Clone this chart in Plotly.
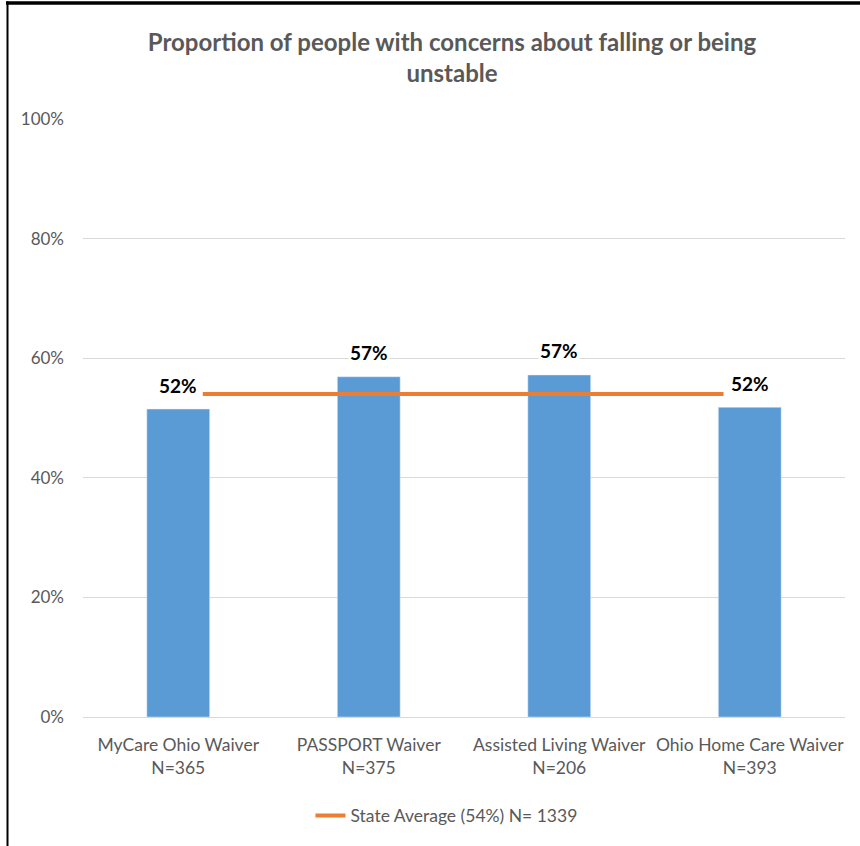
import plotly.graph_objects as go

categories = ["MyCare Ohio Waiver<br>N=365", "PASSPORT Waiver<br>N=375",
              "Assisted Living Waiver<br>N=206", "Ohio Home Care Waiver<br>N=393"]
values = [0.515, 0.569, 0.572, 0.518]
labels = ["52%", "57%", "57%", "52%"]
state_avg = [0.54, 0.54, 0.54, 0.54]
avg_name = "State Average (54%) N= 1339"
title = "Proportion of people with concerns about falling or being<br>unstable"
yticks = [0, 0.2, 0.4, 0.6, 0.8, 1.0]
yticklabels = ["0%", "20%", "40%", "60%", "80%", "100%"]

FONT = "Lato, Open Sans, sans-serif"
GRAY = "#595959"
W, H = 860, 846
ML, MR, MT, MB = 83, 15, 119, 129
pw, ph = W - ML - MR, H - MT - MB

idx = list(range(len(categories)))

fig = go.Figure()
fig.add_trace(go.Bar(x=idx, y=values, width=0.33, marker_color="#5B9BD5",
                     showlegend=False, hoverinfo="skip"))
fig.add_trace(go.Scatter(x=idx, y=state_avg, xaxis="x2", mode="lines",
                         line=dict(color="#ED7D31", width=4), name=avg_name))

for i, (v, t) in enumerate(zip(values, labels)):
    fig.add_annotation(x=i, y=v, text="<b>" + t + "</b>", showarrow=False,
                       yshift=24, bgcolor="white",
                       font=dict(family=FONT, size=19, color="black"))

def px_x(p):
    return (p - ML) / pw

def px_y(p):
    return (H - MB - p) / ph

fig.add_shape(type="line", xref="paper", yref="paper",
              x0=px_x(6), x1=px_x(W + 5), y0=px_y(3), y1=px_y(3),
              line=dict(color="black", width=3.5))
fig.add_shape(type="line", xref="paper", yref="paper",
              x0=px_x(7.5), x1=px_x(7.5), y0=px_y(1.5), y1=px_y(H + 5),
              line=dict(color="black", width=2))

fig.update_layout(
    width=W, height=H,
    margin=dict(l=ML, r=MR, t=MT, b=MB),
    paper_bgcolor="white", plot_bgcolor="white",
    title=dict(text=title, x=452 / W, xanchor="center", y=1 - 51 / H, yanchor="middle",
               font=dict(family=FONT, size=24, color=GRAY, weight="bold")),
    font=dict(family=FONT, size=17, color=GRAY),
    xaxis=dict(range=[-0.5, 3.5], tickvals=idx, ticktext=categories,
               showgrid=False, zeroline=False, showline=True, linecolor="#D9D9D9",
               linewidth=1, ticks="", ticklabelstandoff=12,
               tickfont=dict(size=17.5, color=GRAY)),
    xaxis2=dict(range=[-0.69, 3.70], overlaying="x", visible=False),
    yaxis=dict(range=[0, 1], tickvals=yticks, ticktext=yticklabels,
               showgrid=True, gridcolor="#D9D9D9", gridwidth=1, zeroline=False,
               ticks="", ticklabelstandoff=18, tickfont=dict(size=17, color=GRAY)),
    legend=dict(orientation="h", x=0.477, xanchor="center", y=-0.165, yanchor="middle",
                font=dict(family=FONT, size=17.5, color=GRAY)),
    bargap=0.67,
)

fig.write_html("out.html", post_script="document.body.style.margin='0';",
               config={"displayModeBar": False})
